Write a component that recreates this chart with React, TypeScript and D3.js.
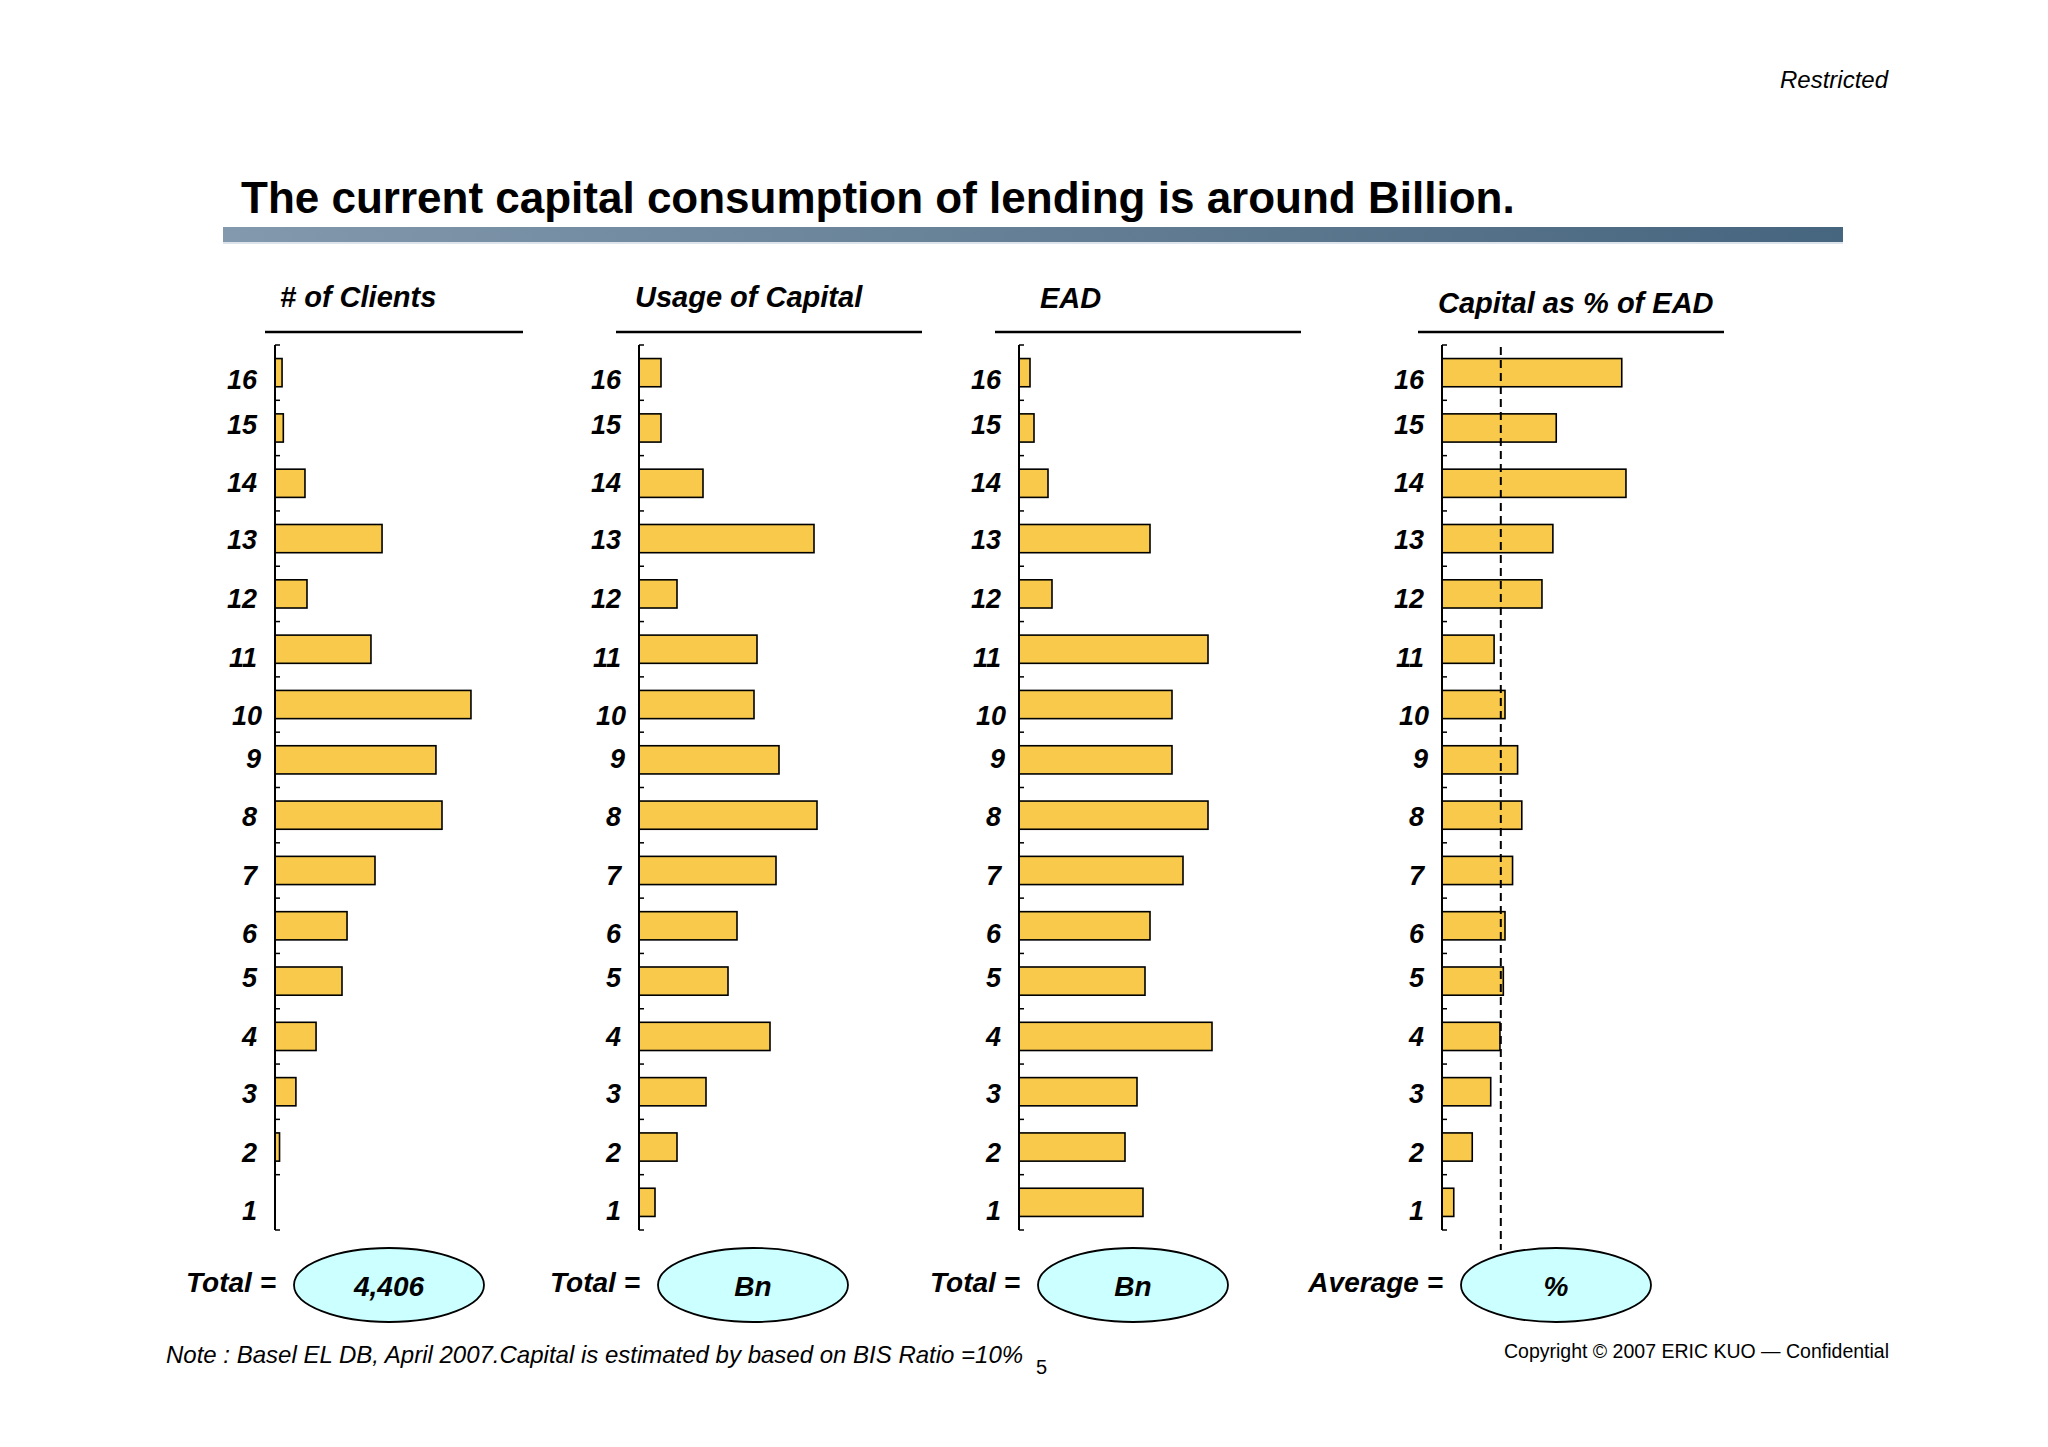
import React from "react";
import * as d3 from "d3";

// Rating grades, top of each panel is grade 16
const grades = d3.range(1, 17).map(String);

// values by grade 1..16
const clients = [0, 18, 83, 163, 266, 286, 397, 663, 639, 778, 381, 127, 425, 119, 33, 28];
const usageBn = [1.6, 3.8, 6.7, 13.1, 8.9, 9.8, 13.7, 17.8, 14.0, 11.5, 11.8, 3.8, 17.5, 6.4, 2.2, 2.2];
const eadBn = [124, 106, 118, 193, 126, 131, 164, 189, 153, 153, 189, 33, 131, 29, 15, 11];
const capitalPct = [1.4, 3.6, 5.8, 6.9, 7.3, 7.5, 8.4, 9.5, 9.0, 7.5, 6.2, 11.9, 13.2, 21.9, 13.6, 21.4];
const avgPct = 7.0;

const panelTitles = ["# of Clients", "Usage of Capital", "EAD", "Capital as % of EAD"];
const totalLabels = ["Total =", "Total =", "Total =", "Average ="];
const totalTexts = ["4,406", "Bn", "Bn", "%"];

const W = 2048;
const H = 1447;
const FONT = "'Liberation Sans', Arial, Helvetica, sans-serif";
const BAR = "#f8c94a";

// layout per panel
const layout = [
  { axisX: 275, titleX: 280, titleY: 307, line: [265, 523], max: 800, px: 201.5 },
  { axisX: 639, titleX: 635, titleY: 307, line: [616, 922], max: 20, px: 200 },
  { axisX: 1019, titleX: 1040, titleY: 308, line: [995, 1301], max: 200, px: 200 },
  { axisX: 1442, titleX: 1438, titleY: 313, line: [1418, 1724], max: 24, px: 201.6 },
];
const series = [clients, usageBn, eadBn, capitalPct];

// the grade labels were placed as loose text boxes on the slide (grade 1..16)
const labelDy = [18, 14.5, 11, 9.4, 6, 17, 15, 11, 8, 20, 18, 14, 10, 8.5, 6, 16.4];
const labelDx = [0, 0, 0, 0, 0, 0, 0, 0, 4, 5, 0, 0, 0, 0, 0, 0];

const y = d3
  .scaleBand<string>()
  .domain([...grades].reverse())
  .range([345, 1230])
  .paddingInner(0.49)
  .paddingOuter(0.245);

const App: React.FC = () => {
  const step = y.step();
  const boundaries = d3.range(17).map((i) => 345 + i * step);

  return (
    <div style={{ position: "absolute", left: 0, top: 0, background: "#fff" }}>
      <svg width={W} height={H} viewBox={`0 0 ${W} ${H}`} style={{ display: "block", fontFamily: FONT }}>
        <defs>
          <linearGradient id="band" x1="0" x2="1" y1="0" y2="0">
            <stop offset="0%" stopColor="#8399ad" />
            <stop offset="100%" stopColor="#46657e" />
          </linearGradient>
        </defs>
        <rect width={W} height={H} fill="#fff" />

        <text x={1888} y={88} textAnchor="end" fontSize={24} fontStyle="italic">
          Restricted
        </text>
        <text x={241} y={213} fontSize={44} fontWeight="bold">
          The current capital consumption of lending is around Billion.
        </text>
        <rect x={223} y={227} width={1620} height={15} fill="url(#band)" />
        <rect x={223} y={242} width={1620} height={2} fill="#dde3ea" />

        {layout.map((p, pi) => {
          const x = d3.scaleLinear().domain([0, p.max]).range([p.axisX, p.axisX + p.px]);
          const vals = series[pi];
          return (
            <g key={pi}>
              <text x={p.titleX} y={p.titleY} fontSize={29} fontWeight="bold" fontStyle="italic">
                {panelTitles[pi]}
              </text>
              <line x1={p.line[0]} x2={p.line[1]} y1={332} y2={332} stroke="#000" strokeWidth={2.5} />

              {grades.map((g, i) =>
                vals[i] > 0 ? (
                  <rect
                    key={g}
                    x={x(0)}
                    y={y(g)}
                    width={x(vals[i]) - x(0)}
                    height={y.bandwidth()}
                    fill={BAR}
                    stroke="#000"
                    strokeWidth={1.6}
                  />
                ) : null
              )}

              <line x1={p.axisX} x2={p.axisX} y1={345} y2={1230} stroke="#000" strokeWidth={2} />
              {boundaries.map((b, i) => (
                <line key={i} x1={p.axisX} x2={p.axisX + 5} y1={b} y2={b} stroke="#000" strokeWidth={1.5} />
              ))}

              {grades.map((g, i) => (
                <text
                  key={g}
                  x={p.axisX - 18 + labelDx[i]}
                  y={(y(g) as number) + y.bandwidth() / 2 + labelDy[i]}
                  textAnchor="end"
                  fontSize={27}
                  fontWeight="bold"
                  fontStyle="italic"
                >
                  {g}
                </text>
              ))}

              {pi === 3 ? (
                <line
                  x1={x(avgPct)}
                  x2={x(avgPct)}
                  y1={347}
                  y2={1250}
                  stroke="#000"
                  strokeWidth={2}
                  strokeDasharray="8 5"
                />
              ) : null}

              <text x={p.axisX + 1} y={1292} textAnchor="end" fontSize={28} fontWeight="bold" fontStyle="italic">
                {totalLabels[pi]}
              </text>
              <ellipse cx={p.axisX + 114} cy={1285} rx={95} ry={37} fill="#ccffff" stroke="#000" strokeWidth={1.8} />
              <text
                x={p.axisX + 114}
                y={1296}
                textAnchor="middle"
                fontSize={28}
                fontWeight="bold"
                fontStyle="italic"
              >
                {totalTexts[pi]}
              </text>
            </g>
          );
        })}

        <text x={166} y={1363} fontSize={24} fontStyle="italic">
          Note : Basel EL DB, April 2007.Capital is estimated by based on BIS Ratio =10%
        </text>
        <text x={1036} y={1374} fontSize={20}>
          5
        </text>
        <text x={1889} y={1358} textAnchor="end" fontSize={19.5}>
          Copyright © 2007 ERIC KUO — Confidential
        </text>
      </svg>
    </div>
  );
};

export default App;
